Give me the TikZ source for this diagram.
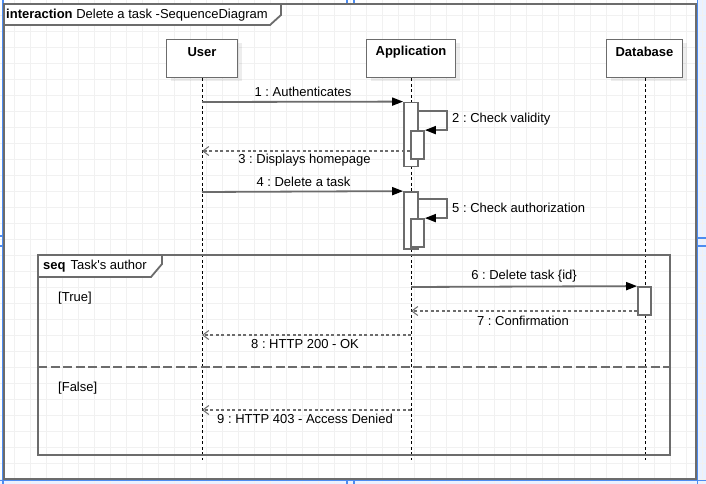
\documentclass[tikz,border=0pt]{standalone}
\usepackage{fontspec}
\setmainfont{Liberation Sans}
\usetikzlibrary{arrows.meta,shadows}
\definecolor{linegray}{RGB}{108,108,108}
\definecolor{gridgray}{RGB}{241,241,241}
\definecolor{pageblue}{RGB}{77,140,240}
\definecolor{pagefill}{RGB}{234,241,255}
\frenchspacing
\begin{document}
\begin{tikzpicture}[x=1pt,y=-1pt,
    font=\fontsize{13}{15}\selectfont,
    frame/.style={draw=linegray,line width=1.8pt},
    tab/.style={draw=linegray,line width=1.8pt,fill=white},
    lifebox/.style={draw=linegray,line width=1.8pt,fill=white,minimum height=38pt,inner sep=0pt,
      drop shadow={shadow xshift=4pt,shadow yshift=-4pt,fill=black,opacity=.07}},
    boxlabel/.style={font=\fontsize{13}{15}\selectfont\bfseries},
    lifeline/.style={draw=black,line width=1pt,dash pattern=on 3pt off 2.5pt},
    actbar/.style={draw=linegray,line width=1.8pt,fill=white,minimum width=13pt,inner sep=0pt},
    call/.style={draw=linegray,line width=1.8pt,-{Triangle[length=11pt,width=8pt,color=black]}},
    reply/.style={draw=linegray,line width=1.6pt,dash pattern=on 3pt off 2.5pt,
      -{Straight Barb[length=6pt,width=9pt,line width=1pt]}},
    guard/.style={anchor=west,inner sep=0pt}]
  \useasboundingbox (0,0) rectangle (706,484);

  % page and grid
  \fill[white] (0,0) rectangle (706,484);
  \fill[pagefill] (697.5,0) rectangle (706,484);
  \fill[pagefill] (0,480.5) rectangle (706,484);
  \foreach \gx in {14,30,...,702}
    \draw[gridgray,line width=1pt] (\gx,0) -- (\gx,484);
  \foreach \gy in {15.5,31.5,...,480}
    \draw[gridgray,line width=1pt] (0,\gy) -- (706,\gy);
  \draw[pageblue,line width=1.2pt]
    (3,0) -- (3,484)
    (697.5,0) -- (697.5,484)
    (0,480.5) -- (706,480.5)
    (0,236) -- (3,236) (0,246) -- (3,246)
    (697.5,238) -- (706,238) (697.5,246) -- (706,246)
    (347,480.5) -- (347,484) (354,480.5) -- (354,484)
    (347,0) -- (347,3) (354,0) -- (354,3);

  % interaction frame
  \draw[frame] (4,4) rectangle (696,479);
  \draw[tab] (4,4) -- (281,4) -- (281,15) -- (270,25) -- (4,25) -- cycle;
  \node[guard] (sdname) at (6,15) {\textbf{interaction} Delete a task -SequenceDiagram};

  % lifelines
  \node[lifebox,minimum width=71pt] (user) at (202,58.5) {};
  \node[boxlabel] (userlbl) at (202,52) {User};
  \node[lifebox,minimum width=89pt] (app) at (411,58.5) {};
  \node[boxlabel] (applbl) at (411,52) {Application};
  \node[lifebox,minimum width=76pt] (db) at (644.5,58.5) {};
  \node[boxlabel] (dblbl) at (644.5,52) {Database};

  \coordinate (userend) at (202,460);
  \coordinate (append) at (411,460);
  \coordinate (dbend) at (645,460);
  \draw[lifeline] (user) -- (userend);
  \draw[lifeline] (app) -- (append);
  \draw[lifeline] ([xshift=.5pt]db.south) -- (dbend);

  % seq fragment
  \draw[frame] (38,255) rectangle (670,455);
  \draw[frame,dash pattern=on 9pt off 3.5pt] (38,367) -- (670,367);
  \draw[tab] (38,255) -- (162,255) -- (162,264) -- (151,277) -- (38,277) -- cycle;
  \node[guard] (seqname) at (43,266) {\textbf{seq}\hspace{5pt}Task\textquotesingle s author};
  \node[guard] (gtrue) at (58,298) {[True]};
  \node[guard] (gfalse) at (58,388) {[False]};

  % activations
  \node[actbar,minimum width=14pt,minimum height=64pt] (act1) at (411,134.5) {};
  \node[actbar,minimum height=28pt] (sub1) at (417.5,145) {};
  \node[actbar,minimum width=14pt,minimum height=57pt] (act2) at (411,220.5) {};
  \node[actbar,minimum height=28pt] (sub2) at (417.5,233) {};
  \node[actbar,minimum height=28pt] (act3) at (644.5,301) {};

  % messages
  \coordinate (m1) at (202,102);
  \draw[call] (m1) -- (act1.north west);
  \node (l1) at (303,92) {1 : Authenticates};

  \coordinate (m2a) at (418,111);
  \coordinate (m2b) at (447,111);
  \draw[call] (m2a) -- (m2b) |- (sub1.north east);
  \node[guard] (l2) at (452,119) {2 : Check validity};

  \coordinate (m3) at (202,151);
  \draw[reply] (sub1.west |- m3) -- (m3);
  \node (l3) at (304.5,160) {3 : Displays homepage};

  \coordinate (m4) at (202,192);
  \draw[call] (m4) -- (act2.north west);
  \node (l4) at (303.5,181.5) {4 : Delete a task};

  \coordinate (m5a) at (418,199);
  \coordinate (m5b) at (447,199);
  \draw[call] (m5a) -- (m5b) |- (sub2.north east);
  \node[guard] (l5) at (452,207.5) {5 : Check authorization};

  \coordinate (m6) at (411,287);
  \draw[call] (m6) -- (act3.north west);
  \node (l6) at (524,276.5) {6 : Delete task \{id\}};

  \coordinate (m7) at (411,311);
  \draw[reply] (act3.west |- m7) -- (m7);
  \node (l7) at (523,320.5) {7 : Confirmation};

  \coordinate (m8a) at (411,335);
  \coordinate (m8b) at (202,335);
  \draw[reply] (m8a) -- (m8b);
  \node (l8) at (305,344) {8 : HTTP 200 - OK};

  \coordinate (m9a) at (411,410);
  \coordinate (m9b) at (202,410);
  \draw[reply] (m9a) -- (m9b);
  \node (l9) at (305,419) {9 : HTTP 403 - Access Denied};
\end{tikzpicture}
\end{document}
